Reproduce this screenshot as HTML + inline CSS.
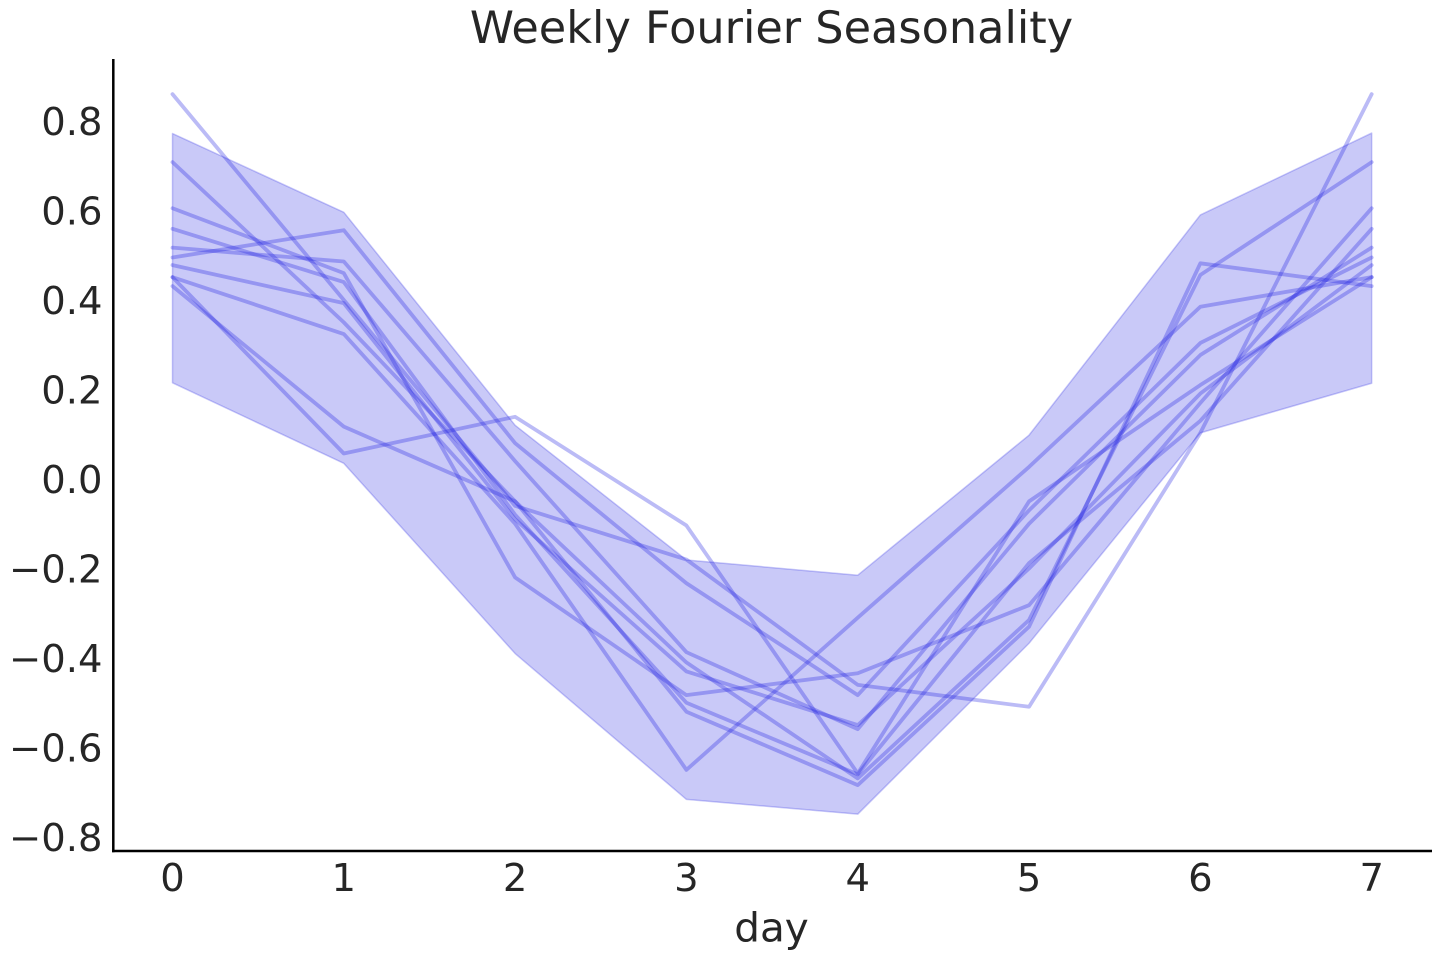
<!DOCTYPE html>
<html>
<head>
<meta charset="utf-8">
<style>
  html, body { margin: 0; padding: 0; background: #ffffff; }
  svg { display: block; }
  text { font-family: "DejaVu Sans", "Liberation Sans", sans-serif; fill: #262626; }
</style>
</head>
<body>
<svg width="1440" height="960" viewBox="0 0 1440 960" xmlns="http://www.w3.org/2000/svg">
  <rect x="0" y="0" width="1440" height="960" fill="#ffffff"/>

  <!-- data group: x in days, y in value -->
  <g transform="translate(172.5,479) scale(171.31,-447.5)">
    <!-- band -->
    <polygon points="0,0.772 1,0.596 2,0.12 3,-0.181 4,-0.215 5,0.098 6,0.59 7,0.773 7,0.214 6,0.103 5,-0.367 4,-0.749 3,-0.716 2,-0.39 1,0.035 0,0.215"
      fill="rgb(30,30,225)" fill-opacity="0.24" stroke="rgb(30,30,225)" stroke-opacity="0.24" stroke-width="1.5" vector-effect="non-scaling-stroke" stroke-linejoin="round"/>
    <g fill="none" stroke="rgb(30,30,225)" stroke-opacity="0.3" stroke-width="3.8" vector-effect="non-scaling-stroke" stroke-linejoin="round" stroke-linecap="round">
      <polyline vector-effect="non-scaling-stroke" points="0,0.86 1,0.40 2,-0.06 3,-0.18 4,-0.46 5,-0.509 6,0.103 7,0.86"/>
      <polyline vector-effect="non-scaling-stroke" points="0,0.495 1,0.556 2,0.08 3,-0.233 4,-0.483 5,-0.07 6,0.304 7,0.495"/>
      <polyline vector-effect="non-scaling-stroke" points="0,0.708 1,0.35 2,-0.05 3,-0.41 4,-0.669 5,-0.315 6,0.456 7,0.708"/>
      <polyline vector-effect="non-scaling-stroke" points="0,0.431 1,0.117 2,-0.05 3,-0.52 4,-0.684 5,-0.33 6,0.482 7,0.431"/>
      <polyline vector-effect="non-scaling-stroke" points="0,0.517 1,0.486 2,0.04 3,-0.387 4,-0.559 5,-0.10 6,0.277 7,0.517"/>
      <polyline vector-effect="non-scaling-stroke" points="0,0.478 1,0.393 2,-0.09 3,-0.43 4,-0.55 5,-0.2 6,0.191 7,0.478"/>
      <polyline vector-effect="non-scaling-stroke" points="0,0.605 1,0.46 2,-0.22 3,-0.483 4,-0.434 5,-0.282 6,0.17 7,0.605"/>
      <polyline vector-effect="non-scaling-stroke" points="0,0.451 1,0.324 2,-0.10 3,-0.65 4,-0.31 5,0.027 6,0.385 7,0.451"/>
      <polyline vector-effect="non-scaling-stroke" points="0,0.451 1,0.057 2,0.139 3,-0.104 4,-0.658 5,-0.05 6,0.21 7,0.451"/>
      <polyline vector-effect="non-scaling-stroke" points="0,0.559 1,0.44 2,-0.08 3,-0.50 4,-0.66 5,-0.188 6,0.13 7,0.559"/>
    </g>
  </g>

  <!-- spines -->
  <line x1="113.3" y1="59" x2="113.3" y2="852.2" stroke="#000" stroke-width="2.5"/>
  <line x1="112" y1="851" x2="1432" y2="851" stroke="#000" stroke-width="2.5"/>

  <!-- y tick labels -->
  <g font-size="38.5" text-anchor="end">
    <text x="102.5" y="135">0.8</text>
    <text x="102.5" y="224.5">0.6</text>
    <text x="102.5" y="314">0.4</text>
    <text x="102.5" y="403.5">0.2</text>
    <text x="102.5" y="493">0.0</text>
    <text x="102.5" y="582.5">−0.2</text>
    <text x="102.5" y="672">−0.4</text>
    <text x="102.5" y="761.5">−0.6</text>
    <text x="102.5" y="851">−0.8</text>
  </g>

  <!-- x tick labels -->
  <g font-size="38.5" text-anchor="middle">
    <text x="172.5" y="891">0</text>
    <text x="343.8" y="891">1</text>
    <text x="515.1" y="891">2</text>
    <text x="686.4" y="891">3</text>
    <text x="857.7" y="891">4</text>
    <text x="1029.0" y="891">5</text>
    <text x="1200.4" y="891">6</text>
    <text x="1371.7" y="891">7</text>
  </g>

  <!-- axis label -->
  <text x="771.5" y="941.5" font-size="40.5" text-anchor="middle">day</text>

  <!-- title -->
  <text x="771.5" y="43" font-size="44.6" text-anchor="middle">Weekly Fourier Seasonality</text>
</svg>
</body>
</html>
